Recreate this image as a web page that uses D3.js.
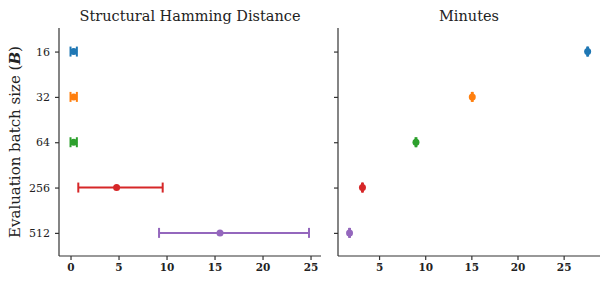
<!DOCTYPE html>
<html lang="en">
<head>
<meta charset="UTF-8">
<title>Batch size</title>
<script src="https://d3js.org/d3.v7.min.js"></script>
<style>
  body { margin: 0; background: #fff; }
  text { font-family: "DejaVu Serif", serif; fill: #222; }
  .axis path, .axis line { stroke: #333; stroke-width: 1.2; }
  .axis text { font-size: 10.5px; font-weight: bold; }
</style>
</head>
<body>
<svg id="chart" width="609" height="285"></svg>
<script>
// data
var batchSizes = ["16", "32", "64", "256", "512"];
var shdMean = [0.33, 0.33, 0.33, 4.8, 15.57];
var shdLow = [0.0, 0.0, 0.0, 0.81, 9.22];
var shdHigh = [0.66, 0.66, 0.66, 9.6, 24.84];
var minutesMean = [27.6, 15.1, 9.0, 3.2, 1.8];
var minutesLow = [27.55, 15.05, 8.95, 3.15, 1.75];
var minutesHigh = [27.65, 15.15, 9.05, 3.25, 1.85];
var xTicksShd = [0, 5, 10, 15, 20, 25];
var xTicksMin = [5, 10, 15, 20, 25];
var colors = ["#1f77b4", "#ff7f0e", "#2ca02c", "#d62728", "#9467bd"];

var svg = d3.select("#chart");
var plotTop = 28, plotBottom = 256;

var y = d3.scaleLinear().domain([-0.52, 4.51]).range([plotTop, plotBottom]);

function panel(x0, x1, domain, means, lows, highs, ticks, title, showLabels) {
    var x = d3.scaleLinear().domain(domain).range([x0, x1]);
    var g = svg.append("g");

    // x axis
    g.append("g")
        .attr("class", "axis")
        .attr("transform", "translate(0," + plotBottom + ")")
        .call(d3.axisBottom(x).tickValues(ticks).tickSize(4).tickPadding(4).tickSizeOuter(0))
        .call(a => a.select(".domain").attr("d", "M" + x0 + ",0H" + x1));

    // y axis
    var ya = g.append("g")
        .attr("class", "axis")
        .attr("transform", "translate(" + x0 + ",0)")
        .call(d3.axisLeft(y).tickValues(d3.range(batchSizes.length))
            .tickFormat(i => showLabels ? batchSizes[i] : "")
            .tickSize(4).tickPadding(5).tickSizeOuter(0));
    ya.select(".domain").attr("d", "M0," + plotTop + "V" + plotBottom);
    ya.selectAll("text").style("font-weight", "normal").style("font-size", "11px");

    // error bars
    var rows = g.selectAll(".row")
        .data(means.map((m, i) => ({ m: m, lo: lows[i], hi: highs[i], i: i })))
        .enter().append("g");

    rows.append("line")
        .attr("x1", d => x(d.lo)).attr("x2", d => x(d.hi))
        .attr("y1", d => y(d.i)).attr("y2", d => y(d.i))
        .attr("stroke", d => colors[d.i]).attr("stroke-width", 2);

    ["lo", "hi"].forEach(function(k) {
        rows.append("line")
            .attr("x1", d => x(d[k])).attr("x2", d => x(d[k]))
            .attr("y1", d => y(d.i) - 5).attr("y2", d => y(d.i) + 5)
            .attr("stroke", d => colors[d.i]).attr("stroke-width", 2);
    });

    rows.append("circle")
        .attr("cx", d => x(d.m)).attr("cy", d => y(d.i))
        .attr("r", 3.5)
        .attr("fill", d => colors[d.i]);

    g.append("text")
        .attr("x", (x0 + x1) / 2).attr("y", 21)
        .attr("text-anchor", "middle")
        .style("font-size", "14.5px")
        .text(title);
}

panel(59, 321, [-1.2, 26.09], shdMean, shdLow, shdHigh, xTicksShd, "Structural Hamming Distance", true);
panel(338, 600, [0.55, 28.94], minutesMean, minutesLow, minutesHigh, xTicksMin, "Minutes", false);

// y label
var yl = svg.append("text")
    .attr("transform", "translate(20," + (plotTop + plotBottom) / 2 + ") rotate(-90)")
    .attr("text-anchor", "middle")
    .style("font-size", "15px");
yl.append("tspan").text("Evaluation batch size (");
yl.append("tspan").style("font-style", "italic").style("font-weight", "bold").text("B");
yl.append("tspan").text(")");
</script>
</body>
</html>
